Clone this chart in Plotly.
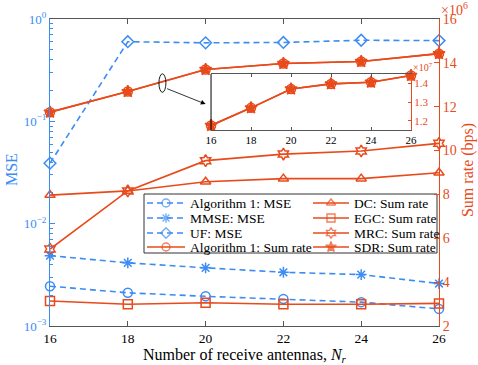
import plotly.graph_objects as go

# data
n_rx = [16, 18, 20, 22, 24, 26]

mse_alg1 = [0.00245, 0.00211, 0.00195, 0.00184, 0.00171, 0.00147]
mse_mmse = [0.00487, 0.00414, 0.0037, 0.00335, 0.00318, 0.0026]
mse_uf = [0.039, 0.60, 0.585, 0.59, 0.62, 0.615]

rate_alg1 = [11.75e6, 12.69e6, 13.70e6, 13.97e6, 14.06e6, 14.42e6]
rate_sdr = [11.75e6, 12.69e6, 13.70e6, 13.97e6, 14.06e6, 14.42e6]
rate_dc = [7.97e6, 8.16e6, 8.58e6, 8.72e6, 8.72e6, 8.99e6]
rate_egc = [3.14e6, 2.99e6, 3.06e6, 2.99e6, 2.99e6, 3.03e6]
rate_mrc = [5.51e6, 8.16e6, 9.54e6, 9.84e6, 9.98e6, 10.33e6]

mse_ticks = [1e-3, 1e-2, 1e-1, 1]
mse_ticktext = ["10<sup>\u22123</sup>", "10<sup>\u22122</sup>", "10<sup>\u22121</sup>", "10<sup>0</sup>"]
rate_ticks = [2e6, 4e6, 6e6, 8e6, 10e6, 12e6, 14e6, 16e6]
inset_ticks = [1.2e7, 1.3e7, 1.4e7]

BLUE = "#3b8cf5"
ORANGE = "#e84a1b"
FONT = "Liberation Serif"

# (name, color, dash, symbol) for each series
series = [
    ("Algorithm 1: MSE", BLUE, "6px,4px", "circle-open", mse_alg1, "y"),
    ("MMSE: MSE", BLUE, "6px,4px", "asterisk-open", mse_mmse, "y"),
    ("UF: MSE", BLUE, "6px,4px", "diamond-open", mse_uf, "y"),
    ("Algorithm 1: Sum rate", ORANGE, "solid", "circle-open", rate_alg1, "y2"),
    ("DC: Sum rate", ORANGE, "solid", "triangle-up-open", rate_dc, "y2"),
    ("EGC: Sum rate", ORANGE, "solid", "square-open", rate_egc, "y2"),
    ("MRC: Sum rate", ORANGE, "solid", "hexagram-open", rate_mrc, "y2"),
    ("SDR: Sum rate", ORANGE, "solid", "star", rate_sdr, "y2"),
]

fig = go.Figure()

for name, col, dash, sym, vals, yax in series:
    fig.add_trace(go.Scatter(
        x=n_rx, y=vals, yaxis=yax, name=name, mode="lines+markers",
        line=dict(color=col, width=1.6, dash=dash),
        marker=dict(symbol=sym, size=9, color=col, line=dict(color=col, width=1.5)),
        cliponaxis=False, showlegend=False,
    ))

# inset (zoom on the top curves)
for name, col, dash, sym, vals, yax in series:
    if vals is rate_alg1 or vals is rate_sdr:
        fig.add_trace(go.Scatter(
            x=n_rx, y=vals, xaxis="x3", yaxis="y3", mode="lines+markers",
            line=dict(color=col, width=1.6),
            marker=dict(symbol=sym, size=9, color=col, line=dict(color=col, width=1.5)),
            cliponaxis=False, showlegend=False,
        ))

# hand-made two column legend, in pixel coords on a hidden axis
leg_rows = [203, 218, 233, 247]
leg_cols = [(147, 185, 188), (313, 349, 352)]
annotations = []
for i, (name, col, dash, sym, vals, yax) in enumerate(series):
    c = leg_cols[i // 4]
    yy = leg_rows[i % 4]
    fig.add_trace(go.Scatter(
        x=[c[0], (c[0] + c[1]) / 2, c[1]], y=[yy, yy, yy], xaxis="x4", yaxis="y4",
        mode="lines+markers", line=dict(color=col, width=1.6, dash=dash),
        marker=dict(symbol=sym, size=[0, 8, 0], color=col, line=dict(color=col, width=1.4)),
        cliponaxis=False, showlegend=False, hoverinfo="skip",
    ))
    annotations.append(dict(x=c[2], y=yy, xref="x4", yref="y4", text=name, showarrow=False,
                            xanchor="left", yanchor="middle",
                            font=dict(family=FONT, size=13.5, color="black")))

annotations += [
    dict(x=1, y=1, xref="paper", yref="paper", text="\u00d710<sup>6</sup>", showarrow=False,
         xanchor="left", yanchor="bottom", xshift=0, yshift=-1,
         font=dict(family=FONT, size=14, color=ORANGE)),
    dict(x=1, y=1, xref="x3 domain", yref="y3 domain", text="\u00d710<sup>7</sup>", showarrow=False,
         xanchor="left", yanchor="bottom", xshift=0, yshift=-1,
         font=dict(family=FONT, size=10, color=ORANGE)),
    dict(x=20.0, y=12.12e6, xref="x", yref="y2", ax=-40, ay=-16, text="", showarrow=True,
         arrowhead=2, arrowsize=1.2, arrowwidth=0.8, arrowcolor="black"),
    # axis titles
    dict(x=0.5, y=0, xref="paper", yref="paper", yshift=-29, showarrow=False,
         text="Number of receive antennas, <i>N</i><sub><i>r</i></sub>",
         xanchor="center", yanchor="middle", font=dict(family=FONT, size=16, color="black")),
    dict(x=0, y=0.508, xref="paper", yref="paper", xshift=-39, showarrow=False, text="MSE",
         textangle=-90, xanchor="center", yanchor="middle",
         font=dict(family=FONT, size=16, color=BLUE)),
    dict(x=1, y=0.508, xref="paper", yref="paper", xshift=29, showarrow=False,
         text="Sum rate (bps)", textangle=-90, xanchor="center", yanchor="middle",
         font=dict(family=FONT, size=16, color=ORANGE)),
]

shapes = [
    dict(type="rect", xref="x4", yref="y4", x0=144, x1=437, y0=194, y1=253,
         fillcolor="white", line=dict(color="#333333", width=1), layer="below"),
    dict(type="circle", xref="x", yref="y2", x0=18.80, x1=18.98, y0=12.66e6, y1=13.50e6,
         line=dict(color="black", width=0.9)),
    dict(type="line", xref="x3 domain", yref="y3 domain", x0=0, x1=0, y0=0, y1=1,
         line=dict(color="black", width=1)),
]

fig.update_layout(
    width=478, height=365,
    margin=dict(l=50, r=39, t=19, b=39, autoexpand=False),
    paper_bgcolor="white", plot_bgcolor="white",
    font=dict(family=FONT, size=13, color="black"),
    showlegend=False,
    xaxis=dict(range=[16, 26], tickvals=n_rx, ticks="inside", ticklen=5, tickcolor="#555555",
               showline=True, linecolor="#555555", linewidth=1, mirror="ticks", showgrid=False,
               zeroline=False, tickfont=dict(size=13.5), automargin=False),
    yaxis=dict(type="log", range=[-3, 0], tickvals=mse_ticks, ticktext=mse_ticktext,
               ticks="inside", ticklen=5, tickcolor=BLUE, showline=True, linecolor=BLUE,
               linewidth=1, showgrid=False, zeroline=False, tickfont=dict(size=13, color=BLUE),
               minor=dict(ticks="inside", ticklen=3, tickcolor=BLUE,
                          tickvals=[k * 10.0 ** e for e in (-3, -2, -1) for k in range(2, 10)]),
               automargin=False),
    yaxis2=dict(overlaying="y", side="right", range=[2e6, 16e6], tickvals=rate_ticks,
                ticktext=[f"{v / 1e6:g}" for v in rate_ticks], ticks="inside", ticklen=5,
                tickcolor=ORANGE, showline=True, linecolor=ORANGE, linewidth=1, showgrid=False,
                zeroline=False, tickfont=dict(size=14, color=ORANGE), automargin=False),
    xaxis3=dict(domain=[0.414, 0.928], anchor="y3", range=[16, 26], tickvals=n_rx, ticks="inside",
                ticklen=3, tickcolor="#555555", showline=True, linecolor="#555555", linewidth=1,
                mirror="ticks", showgrid=False, zeroline=False, tickfont=dict(size=11),
                automargin=False),
    yaxis3=dict(domain=[0.638, 0.821], anchor="x3", side="right", range=[1.15e7, 1.45e7],
                tickvals=inset_ticks, ticktext=[f"{v / 1e7:g}" for v in inset_ticks],
                ticks="inside", ticklen=3, tickcolor=ORANGE, showline=True, linecolor=ORANGE,
                linewidth=1, showgrid=False, zeroline=False, tickfont=dict(size=11, color=ORANGE),
                automargin=False),
    xaxis4=dict(domain=[0, 1], range=[50, 439], visible=False, anchor="y4", overlaying="x"),
    yaxis4=dict(domain=[0, 1], range=[326, 19], visible=False, anchor="x4", overlaying="y"),
    annotations=annotations,
    shapes=shapes,
)

# the page's default 8px body margin would shift the figure
fig.write_html("out.html", config={"displayModeBar": False},
               post_script="document.body.style.margin='0';")
